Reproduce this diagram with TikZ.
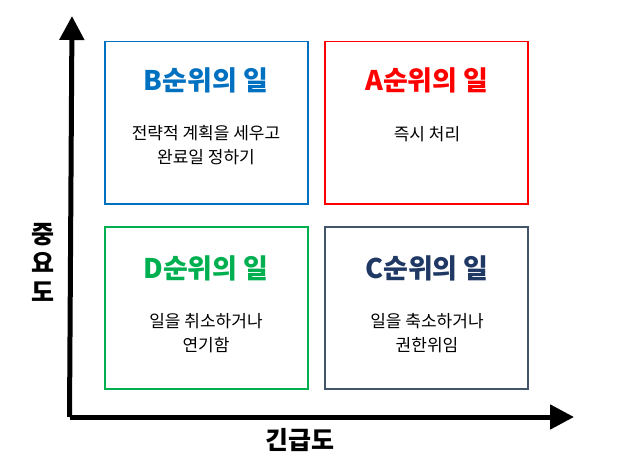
\documentclass[tikz,border=0pt]{standalone}
\usepackage{fontspec}
\newfontfamily\kr{Noto Sans CJK KR}
\usetikzlibrary{arrows.meta}
\definecolor{cb}{RGB}{0,112,192}
\definecolor{ca}{RGB}{255,0,0}
\definecolor{cd}{RGB}{0,176,80}
\definecolor{cc}{RGB}{31,56,100}
\definecolor{cce}{RGB}{68,84,106}
\tikzset{quad/.style={draw=#1,line width=1.5pt,minimum width=203pt,minimum height=162pt,anchor=north west},
ttl/.style={font=\kr\bfseries\fontsize{27}{30}\selectfont},
bod/.style={font=\kr\fontsize{17}{24}\selectfont,align=center},
ax/.style={line width=5pt,-{Triangle[length=24pt,width=24pt]}}}
\begin{document}
\begin{tikzpicture}[x=1pt,y=-1pt]
\useasboundingbox (0,0) rectangle (624,476);
\node[quad=cb] (b) at (104,41) {};
\node[quad=ca] (a) at (324,41) {};
\node[quad=cd] (d) at (104,226) {};
\node[quad=cce] (c) at (324,226) {};
\node[ttl,text=cb] (bt) at (206,80) {B순위의 일};
\node[ttl,text=ca] (at) at (427,80) {A순위의 일};
\node[ttl,text=cd] (dt) at (206,268) {D순위의 일};
\node[ttl,text=cc] (ct) at (427,268) {C순위의 일};
\node[bod] (bb) at (206,145) {전략적 계획을 세우고\\완료일 정하기};
\node[bod] (ab) at (427,134) {즉시 처리};
\node[bod] (db) at (206,333) {일을 취소하거나\\연기함};
\node[bod] (cb2) at (427,333) {일을 축소하거나\\권한위임};
\coordinate (o) at (72,417);
\coordinate (ytop) at (72,16);
\coordinate (xend) at (574,417);
\draw[ax] (69.5,417) -- (ytop);
\draw[ax] (o) ++(-2.5,0) -- (xend);
\node[font=\kr\bfseries\fontsize{25}{29}\selectfont,align=center,inner sep=0pt] (yl) at (43,262) {중\\요\\도};
\node[font=\kr\bfseries\fontsize{25}{29}\selectfont] (xl) at (300,440) {긴급도};
\end{tikzpicture}
\end{document}
